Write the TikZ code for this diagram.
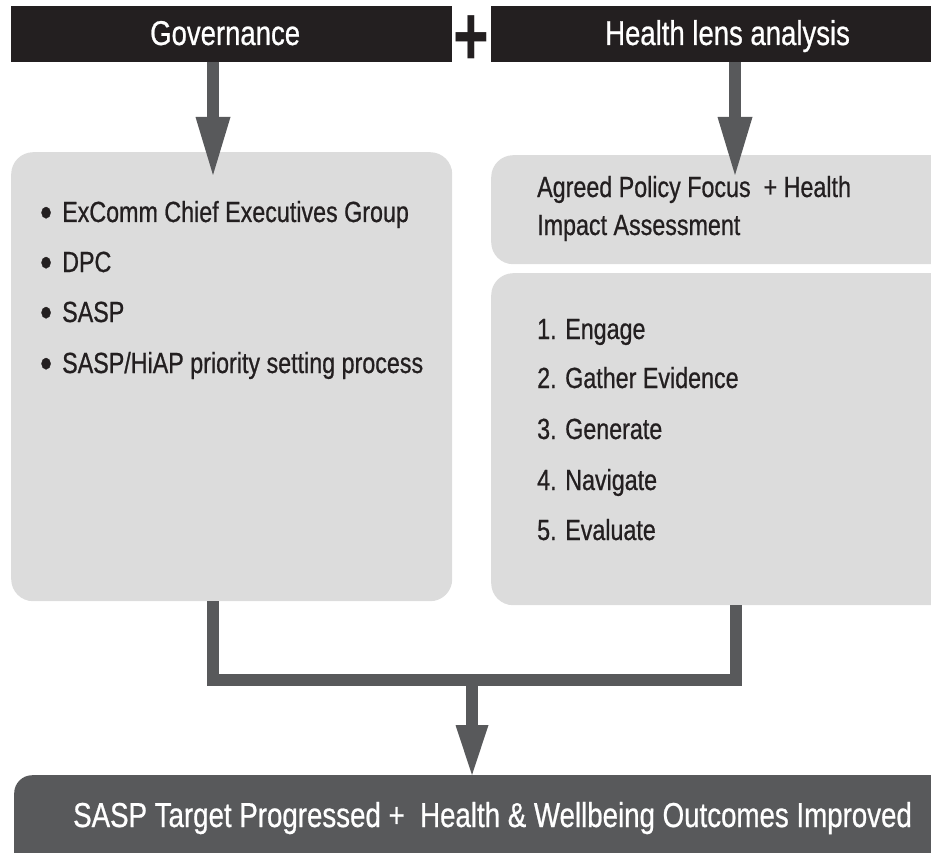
\documentclass[tikz,border=0pt]{standalone}
\usepackage{fontspec}
\setmainfont{Liberation Sans}[FakeStretch=0.8,FakeBold=0.7]
\newfontfamily\plusfont{Liberation Sans Bold}[FakeStretch=0.72]
\usetikzlibrary{arrows.meta}
\definecolor{barblack}{HTML}{231F20}
\definecolor{arrowgray}{HTML}{58595B}
\definecolor{boxgray}{HTML}{DCDCDC}
\definecolor{inkblack}{HTML}{231F20}
\newcommand{\mybul}{\makebox[22pt][l]{\raisebox{-4.6pt}{\fontsize{42}{42}\selectfont •}}}
\begin{document}
\begin{tikzpicture}[x=1pt,y=-1pt,
  bar/.style={fill=barblack, draw=none, inner sep=0pt, anchor=north west},
  panel/.style={fill=boxgray, draw=none, rounded corners=22pt, inner sep=0pt, anchor=north west},
  outbox/.style={fill=arrowgray, draw=none, rounded corners=18pt, inner sep=0pt, anchor=north west},
  titletxt/.style={text=white, font=\fontsize{34.4}{40}\selectfont, anchor=base west, inner sep=0pt},
  bodytxt/.style={text=inkblack, font=\fontsize{29.1}{34}\selectfont, anchor=base west, inner sep=0pt},
  outtxt/.style={text=white, font=\fontsize{34.6}{40}\selectfont, anchor=base west, inner sep=0pt},
  plustxt/.style={text=barblack, font=\plusfont\fontsize{85}{90}\selectfont, anchor=base, inner sep=0pt},
  flow/.style={draw=arrowgray, line width=11.5pt},
  flowarrow/.style={flow, -{Triangle[width=35pt,length=58pt,line width'=0pt]}},
]
\clip (0,0) rectangle (931,853);
% header bars
\node[bar, minimum width=441pt, minimum height=56pt] (G) at (11,6) {};
\node[bar, minimum width=460pt, minimum height=56pt] (H) at (491,6) {};
\node[titletxt] (Gt) at (150,45) {Governance};
\node[titletxt] (Ht) at (605,45) {Health lens analysis};
\node[plustxt] (plus) at (471.5,66) {+};
% panels
\node[panel, minimum width=441pt, minimum height=449pt] (L) at (11,152) {};
\node[panel, minimum width=480pt, minimum height=109pt] (R1) at (491,155) {};
\node[panel, minimum width=480pt, minimum height=332pt] (R2) at (491,273) {};
\node[outbox, minimum width=960pt, minimum height=120pt] (O) at (14,775) {};
% left list
\node[bodytxt] (l1) at (40,222) {\mybul ExComm Chief Executives Group};
\node[bodytxt] (l2) at (40,272) {\mybul DPC};
\node[bodytxt] (l3) at (40,322) {\mybul SASP};
\node[bodytxt] (l4) at (40,373) {\mybul SASP/HiAP priority setting process};
% right texts
\node[bodytxt] (r1) at (537,197) {Agreed Policy Focus\ \ + Health};
\node[bodytxt] (r2) at (537,235) {Impact Assessment};
\node[bodytxt] (s1) at (537,339) {1. Engage};
\node[bodytxt] (s2) at (537,388) {2. Gather Evidence};
\node[bodytxt] (s3) at (537,439) {3. Generate};
\node[bodytxt] (s4) at (537,490) {4. Navigate};
\node[bodytxt] (s5) at (537,540) {5. Evaluate};
% outcome text
\node[outtxt] (Ot) at (73,827) {SASP Target Progressed +\ \ Health \& Wellbeing Outcomes Improved};
% connectors
\coordinate (gtip) at (213,175);
\coordinate (htip) at (735,175);
\draw[flowarrow] (G.south -| gtip) -- (gtip);
\draw[flowarrow] (H.south -| htip) -- (htip);
\coordinate (lj) at (213,680);
\coordinate (rj) at (736,680);
\coordinate (mj) at (472,680);
\draw[flow, line join=miter] (L.south -| lj) -- (lj) -- (rj) -- (R2.south -| rj);
\draw[flow, -{Triangle[width=33pt,length=50pt,line width'=0pt]}] (mj) -- (O.north -| mj);
\end{tikzpicture}
\end{document}
